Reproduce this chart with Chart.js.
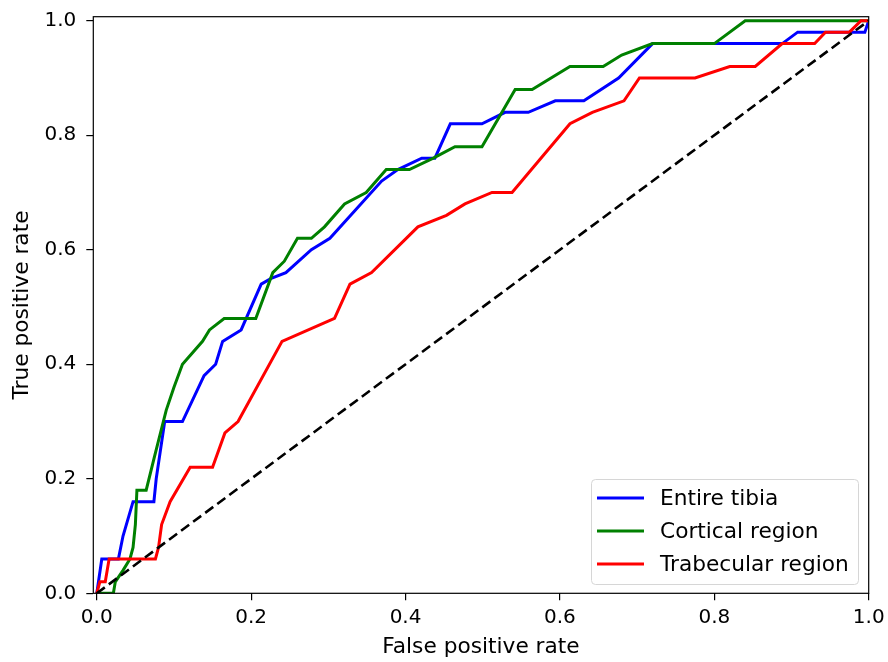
<!DOCTYPE html>
<html>
<head>
<meta charset="utf-8">
<script src="https://cdn.jsdelivr.net/npm/chart.js@4.4.1/dist/chart.umd.min.js"></script>
<style>
  html, body { margin: 0; padding: 0; background: #fff; }
  #wrap { width: 888px; height: 662px; }
</style>
</head>
<body>
<div id="wrap"><canvas id="myChart" width="888" height="662"></canvas></div>
<script>
const seriesNames = ['Entire tibia', 'Cortical region', 'Trabecular region'];
const seriesColors = ['#0000ff', '#008000', '#ff0000'];

const tibiaFpr = [0, 0.0065, 0.028, 0.034, 0.047, 0.074, 0.077, 0.088, 0.111, 0.139, 0.154, 0.163, 0.187, 0.213, 0.226, 0.245, 0.278, 0.302, 0.369, 0.39, 0.421, 0.438, 0.458, 0.499, 0.529, 0.559, 0.594, 0.631, 0.676, 0.72, 0.888, 0.908, 0.995, 1.0];
const tibiaTpr = [0, 0.06, 0.06, 0.10, 0.16, 0.16, 0.20, 0.30, 0.30, 0.38, 0.40, 0.44, 0.46, 0.54, 0.55, 0.56, 0.60, 0.62, 0.72, 0.74, 0.76, 0.76, 0.82, 0.82, 0.84, 0.84, 0.86, 0.86, 0.90, 0.96, 0.96, 0.98, 0.98, 1.0];

const corticalFpr = [0, 0.0215, 0.024, 0.034, 0.043, 0.047, 0.05, 0.052, 0.064, 0.075, 0.09, 0.1, 0.111, 0.137, 0.146, 0.165, 0.206, 0.228, 0.243, 0.26, 0.278, 0.295, 0.321, 0.349, 0.375, 0.405, 0.436, 0.464, 0.499, 0.542, 0.564, 0.613, 0.656, 0.68, 0.72, 0.80, 0.84, 1.0];
const corticalTpr = [0, 0, 0.02, 0.04, 0.06, 0.08, 0.12, 0.18, 0.18, 0.24, 0.32, 0.36, 0.40, 0.44, 0.46, 0.48, 0.48, 0.56, 0.58, 0.62, 0.62, 0.64, 0.68, 0.70, 0.74, 0.74, 0.76, 0.78, 0.78, 0.88, 0.88, 0.92, 0.92, 0.94, 0.96, 0.96, 1.0, 1.0];

const trabecularFpr = [0, 0.004, 0.011, 0.016, 0.076, 0.08, 0.084, 0.095, 0.121, 0.15, 0.166, 0.183, 0.24, 0.308, 0.328, 0.356, 0.416, 0.453, 0.477, 0.512, 0.538, 0.613, 0.642, 0.683, 0.703, 0.775, 0.82, 0.853, 0.888, 0.93, 0.944, 0.975, 0.99, 1.0];
const trabecularTpr = [0, 0.02, 0.02, 0.06, 0.06, 0.08, 0.12, 0.16, 0.22, 0.22, 0.28, 0.30, 0.44, 0.48, 0.54, 0.56, 0.64, 0.66, 0.68, 0.70, 0.70, 0.82, 0.84, 0.86, 0.90, 0.90, 0.92, 0.92, 0.96, 0.96, 0.98, 0.98, 1.0, 1.0];

const chanceFpr = [0, 1];
const chanceTpr = [0, 1];

const xTicks = [0, 0.2, 0.4, 0.6, 0.8, 1.0];
const yTicks = [0, 0.2, 0.4, 0.6, 0.8, 1.0];

const FONT = 'DejaVu Sans';
const TICK_SIZE = 20;
const LABEL_SIZE = 21.7;

function toPoints(xs, ys) {
    return xs.map((x, i) => ({ x: x, y: ys[i] }));
}

// tick labels may hang over the plot edge, so the layout padding alone sets the plot box
function noEdgePadding(s) {
    s.paddingLeft = 0;
    s.paddingRight = 0;
    s.paddingTop = 0;
    s.paddingBottom = 0;
}

// box round the plot, like matplotlib
const frame = {
    id: 'frame',
    afterDatasetsDraw(chart) {
        const a = chart.chartArea;
        const ctx = chart.ctx;
        ctx.save();
        ctx.strokeStyle = '#000';
        ctx.lineWidth = 1.2;
        ctx.strokeRect(a.left, a.top, a.right - a.left, a.bottom - a.top);
        ctx.restore();
    }
};

// legend drawn inside the plot, bottom right
const innerLegend = {
    id: 'innerLegend',
    afterDraw(chart) {
        const ctx = chart.ctx;
        const items = chart.data.datasets.filter(d => d.inLegend);
        const x = 591, y = 479, w = 267, h = 105;
        ctx.save();
        ctx.beginPath();
        ctx.roundRect(x + 0.5, y + 0.5, w, h, 4);
        ctx.fillStyle = 'rgba(255,255,255,0.8)';
        ctx.fill();
        ctx.strokeStyle = '#d6d6d6';
        ctx.lineWidth = 1;
        ctx.stroke();
        ctx.font = LABEL_SIZE + 'px "' + FONT + '"';
        ctx.textBaseline = 'middle';
        ctx.fillStyle = '#000';
        items.forEach((d, i) => {
            const rowY = 498 + i * 33;
            ctx.beginPath();
            ctx.moveTo(597, rowY);
            ctx.lineTo(644, rowY);
            ctx.strokeStyle = d.borderColor;
            ctx.lineWidth = 3;
            ctx.stroke();
            ctx.fillText(d.label, 660, rowY + 1);
        });
        ctx.restore();
    }
};

const ctx = document.getElementById('myChart').getContext('2d');

const lineSets = [
    [tibiaFpr, tibiaTpr],
    [corticalFpr, corticalTpr],
    [trabecularFpr, trabecularTpr]
].map((s, i) => ({
    label: seriesNames[i],
    data: toPoints(s[0], s[1]),
    borderColor: seriesColors[i],
    borderWidth: 3,
    order: 4 - i,
    inLegend: true
}));

lineSets.push({
    label: 'chance',
    data: toPoints(chanceFpr, chanceTpr),
    borderColor: '#000',
    borderWidth: 2.6,
    borderDash: [10, 5],
    order: 0,
    inLegend: false
});

const myChart = new Chart(ctx, {
    type: 'scatter',
    data: { datasets: lineSets },
    options: {
        responsive: false,
        animation: false,
        showLine: true,
        elements: {
            point: { radius: 0, hoverRadius: 0 },
            line: { tension: 0, fill: false, borderCapStyle: 'butt' }
        },
        layout: { padding: { left: 0, right: 19.3, top: 16.7, bottom: 0 } },
        plugins: {
            legend: { display: false },
            tooltip: { enabled: false }
        },
        scales: {
            x: {
                type: 'linear',
                min: -0.0045,
                max: 1.0,
                afterBuildTicks: s => { s.ticks = xTicks.map(v => ({ value: v })); },
                afterFit: s => { s.height = 68.7; noEdgePadding(s); },
                grid: { drawOnChartArea: false, drawTicks: true, tickLength: 7, color: '#000', lineWidth: 1.2 },
                border: { display: false },
                ticks: {
                    padding: 7,
                    color: '#000',
                    font: { family: FONT, size: TICK_SIZE, lineHeight: 1 },
                    maxRotation: 0,
                    callback: v => v.toFixed(1)
                },
                title: {
                    display: true,
                    text: 'False positive rate',
                    color: '#000',
                    font: { family: FONT, size: LABEL_SIZE },
                    padding: { top: 0, bottom: 2 }
                }
            },
            y: {
                type: 'linear',
                min: 0,
                max: 1.007,
                afterBuildTicks: s => { s.ticks = yTicks.map(v => ({ value: v })); },
                afterFit: s => { s.width = 93.3; noEdgePadding(s); },
                grid: { drawOnChartArea: false, drawTicks: true, tickLength: 7, color: '#000', lineWidth: 1.2 },
                border: { display: false },
                ticks: {
                    padding: 10,
                    color: '#000',
                    font: { family: FONT, size: TICK_SIZE, lineHeight: 1 },
                    callback: v => v.toFixed(1)
                },
                title: {
                    display: true,
                    text: 'True positive rate',
                    color: '#000',
                    font: { family: FONT, size: LABEL_SIZE },
                    padding: { top: 9, bottom: 0 }
                }
            }
        }
    },
    plugins: [frame, innerLegend]
});
</script>
</body>
</html>
